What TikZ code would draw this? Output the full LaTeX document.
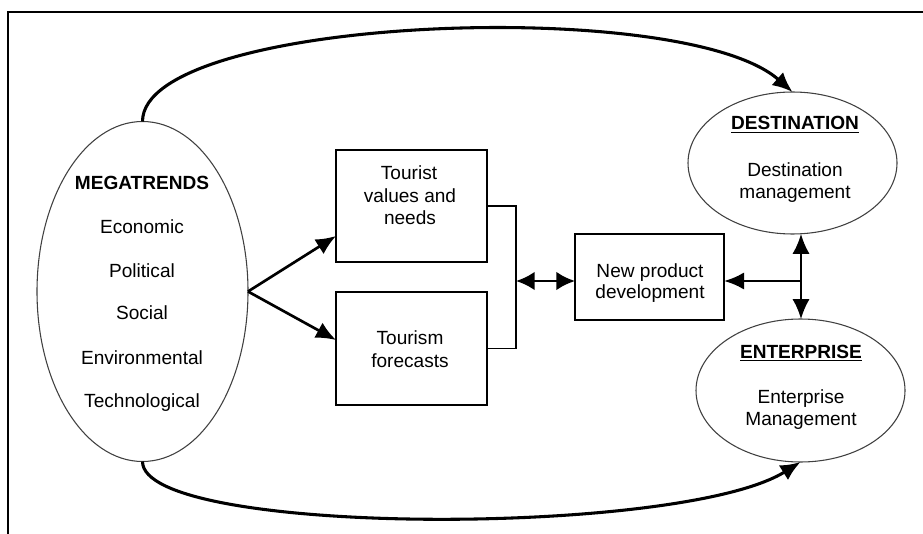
\documentclass[tikz,border=0pt]{standalone}
\usepackage{fontspec}
\setmainfont{Liberation Sans}
\usetikzlibrary{arrows.meta,shapes.geometric}
\begin{document}
\begin{tikzpicture}[x=0.75pt,y=-0.75pt,
  txt/.style={font=\fontsize{14.3}{16.5}\selectfont, inner sep=0pt, anchor=base},
  oval/.style={ellipse, draw=black!75, line width=0.8pt, inner sep=0pt, outer sep=0pt},
  boxn/.style={rectangle, draw, line width=1pt, inner sep=0pt, outer sep=0pt},
  tip/.style={-{Latex[length=15pt,width=13pt]}},
  dtip/.style={{Latex[length=14pt,width=14pt]}-{Latex[length=14pt,width=14pt]}},
  ]
\useasboundingbox (0,0) rectangle (923,534);
\fill[white] (0,0) rectangle (923,534);
\coordinate (fbl) at (8,534);
\coordinate (ftl) at (8,12);
\coordinate (ftr) at (923,12);
\draw[line width=1.2pt] (fbl) -- (ftl) -- (ftr);

% shapes
\node[oval, minimum width=158.25pt, minimum height=255pt] (mega) at (142.5,291.5) {};
\node[oval, minimum width=156.75pt, minimum height=106.5pt] (dest) at (792.5,163) {};
\node[oval, minimum width=156.75pt, minimum height=107.25pt] (ent) at (800.5,390.5) {};
\node[boxn, minimum width=113.25pt, minimum height=84pt] (b1) at (411.5,206) {};
\node[boxn, minimum width=113.25pt, minimum height=84.75pt] (b2) at (411.5,348.5) {};
\node[boxn, minimum width=111.75pt, minimum height=64.5pt] (npd) at (649.5,277) {};

% texts
\node[txt] (m0) at (142,190) {\textbf{MEGATRENDS}};
\node[txt] (m1) at (142,234) {Economic};
\node[txt] (m2) at (142,277) {Political};
\node[txt] (m3) at (142,320) {Social};
\node[txt] (m4) at (142,364) {Environmental};
\node[txt] (m5) at (142,407) {Technological};

\node[txt] (t1) at (409,180) {Tourist};
\node[txt] (t2) at (410,203) {values and};
\node[txt] (t3) at (410,225) {needs};
\node[txt] (f1) at (410,344) {Tourism};
\node[txt] (f2) at (410,367) {forecasts};

\node[txt] (n1) at (650,277) {New product};
\node[txt] (n2) at (650,298) {development};

\node[txt] (d0) at (795,130) {\underline{\textbf{DESTINATION}}};
\node[txt] (d1) at (795,177) {Destination};
\node[txt] (d2) at (795,199) {management};

\node[txt] (e0) at (801,358) {\underline{\textbf{ENTERPRISE}}};
\node[txt] (e1) at (801,403) {Enterprise};
\node[txt] (e2) at (801,425) {Management};

% big curves
\draw[line width=2.3pt, tip] (mega.north) .. controls +(0,-105) and +(-110,-97) .. (dest.north);
\draw[line width=2.3pt, tip] (mega.south) .. controls +(0,75) and +(-120,75) .. (ent.south);

% megatrends to boxes
\coordinate (a1) at (336,236);
\coordinate (a2) at (336,340);
\draw[line width=2pt, tip] (mega.east) -- (a1);
\draw[line width=2pt, tip] (mega.east) -- (a2);

% bracket
\coordinate (bt) at (516,206);
\coordinate (bb) at (516,348.5);
\coordinate (bm) at (516,281);
\draw[line width=0.8pt] (b1.east) -- (bt) -- (bb) -- (b2.east);
\draw[line width=2pt, dtip] (bm) -- (bm -| npd.west);

% junction on right
\coordinate (j) at (801,281);
\draw[line width=1.5pt, tip] (j) -- (j |- dest.south);
\draw[line width=1.5pt, tip] (j) -- (j |- ent.north);
\draw[line width=2.2pt, tip] (j) -- (j -| npd.east);
\end{tikzpicture}
\end{document}
